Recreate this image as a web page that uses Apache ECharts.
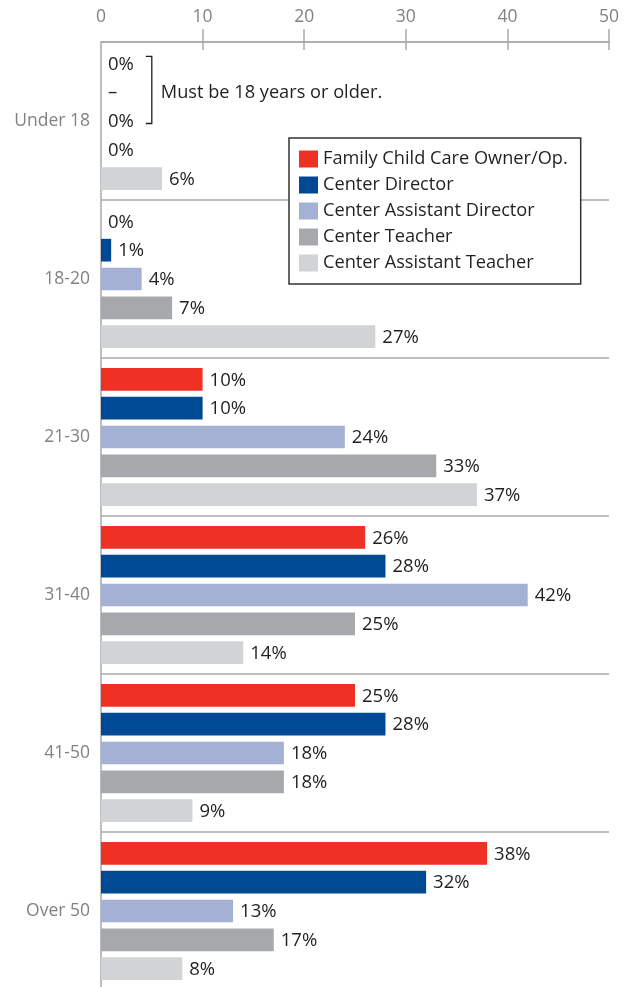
<!DOCTYPE html>
<html>
<head>
<meta charset="utf-8">
<script src="https://cdn.jsdelivr.net/npm/echarts@6/dist/echarts.min.js"></script>
<style>
  html, body { margin: 0; padding: 0; background: #fff; }
  #chart { width: 634px; height: 987px; }
</style>
</head>
<body>
<div id="chart"></div>
<script>
// Age groups, top to bottom
const categories = ['Under 18', '18-20', '21-30', '31-40', '41-50', 'Over 50'];
const seriesNames = [
  'Family Child Care Owner/Op.',
  'Center Director',
  'Center Assistant Director',
  'Center Teacher',
  'Center Assistant Teacher'
];
// Percent of each role in each age group (null = not reported)
const familyOwner       = [0, 0, 10, 26, 25, 38];
const centerDirector    = [null, 1, 10, 28, 28, 32];
const assistantDirector = [0, 4, 24, 42, 18, 13];
const centerTeacher     = [0, 7, 33, 25, 18, 17];
const assistantTeacher  = [6, 27, 37, 14, 9, 8];
const xTicks = [0, 10, 20, 30, 40, 50];
const ageNote = 'Must be 18 years or older.';

const colors = ['#ee3124', '#004a93', '#a5b1d4', '#a7a8ab', '#d2d3d5'];
const allValues = [familyOwner, centerDirector, assistantDirector, centerTeacher, assistantTeacher];

const FONT = '"Open Sans"';
const FS_AXIS = 17.5;
const FS_TEXT = 18.2;
const FS_VALUE = 18.5;
const BAR_W = 22.7;
const BAR_GAP = 0.27;

const chart = echarts.init(document.getElementById('chart'), null, { renderer: 'canvas' });

const series = allValues.map((vals, i) => ({
  name: seriesNames[i],
  type: 'bar',
  data: vals,
  barWidth: BAR_W,
  barGap: (BAR_GAP * 100) + '%',
  itemStyle: { color: colors[i] },
  label: {
    show: true,
    position: 'right',
    distance: 7,
    offset: [0, 1],
    color: '#231f20',
    fontFamily: FONT,
    fontSize: FS_VALUE,
    formatter: p => p.value + '%'
  }
}));

const axisGray = '#a7a9ac';
const labelGray = '#808285';

chart.setOption({
  animation: false,
  grid: { left: 101, top: 42, right: 25, height: 948, outerBoundsMode: 'none' },
  xAxis: [{
    type: 'value',
    position: 'top',
    min: xTicks[0],
    max: xTicks[xTicks.length - 1],
    interval: 10,
    axisLine: { show: true, lineStyle: { color: axisGray, width: 1.5 } },
    axisTick: { show: true, inside: false, length: 13, customValues: xTicks.slice(1), lineStyle: { color: axisGray, width: 1.5 } },
    axisLabel: { color: labelGray, fontFamily: FONT, fontSize: FS_AXIS, margin: 16, customValues: xTicks },
    splitLine: { show: false }
  }, {
    type: 'value',
    position: 'top',
    min: xTicks[0],
    max: xTicks[xTicks.length - 1],
    interval: 10,
    axisLine: { show: false },
    axisTick: { show: true, inside: true, length: 8, customValues: xTicks.slice(1), lineStyle: { color: axisGray, width: 1.5 } },
    axisLabel: { show: false },
    splitLine: { show: false }
  }],
  yAxis: {
    type: 'category',
    data: categories,
    inverse: true,
    axisLine: { show: true, lineStyle: { color: axisGray, width: 1.5 } },
    axisTick: { show: false },
    axisLabel: { color: labelGray, fontFamily: FONT, fontSize: FS_AXIS, margin: 11 },
    splitLine: { show: true, lineStyle: { color: axisGray, width: 1.5 } }
  },
  legend: {
    data: seriesNames,
    orient: 'vertical',
    left: 289,
    top: 138,
    padding: [12, 13, 12, 10],
    itemWidth: 19,
    itemHeight: 17,
    itemGap: 8,
    icon: 'rect',
    backgroundColor: '#fff',
    borderColor: '#333',
    borderWidth: 1.5,
    borderRadius: 0,
    textStyle: { color: '#231f20', fontFamily: FONT, fontSize: FS_TEXT }
  },
  series: series
});

// Bracket note over the under-18 rows: placed from the axis scales
function drawNote() {
  const c0 = chart.convertToPixel({ yAxisIndex: 0 }, categories[0]);
  const pitch = BAR_W * (1 + BAR_GAP);
  const rowY = i => c0 + (i - 2) * pitch;
  const x0 = chart.convertToPixel({ xAxisIndex: 0 }, 0);
  const xb = chart.convertToPixel({ xAxisIndex: 0 }, 5);
  const top = rowY(0) - 7;
  const bottom = rowY(2) + 2.5;
  const els = [
    {
      type: 'polyline',
      shape: { points: [[xb - 6, top], [xb, top], [xb, bottom], [xb - 6, bottom]] },
      style: { stroke: '#231f20', lineWidth: 1.3, fill: null }
    },
    {
      type: 'text',
      x: xb + 9, y: rowY(1) + 1,
      style: { text: ageNote, fill: '#231f20', font: FS_TEXT + 'px ' + FONT, textVerticalAlign: 'middle', textAlign: 'left' }
    }
  ];
  // Director row has no reported value: dash in place of a label
  allValues.forEach((vals, i) => {
    if (vals[0] === null) {
      els.push({
        type: 'text',
        x: x0 + 7, y: rowY(i) + 1,
        style: { text: '–', fill: '#231f20', font: FS_VALUE + 'px ' + FONT, textVerticalAlign: 'middle', textAlign: 'left' }
      });
    }
  });
  chart.setOption({ graphic: { elements: els } });
}
drawNote();
</script>
</body>
</html>
